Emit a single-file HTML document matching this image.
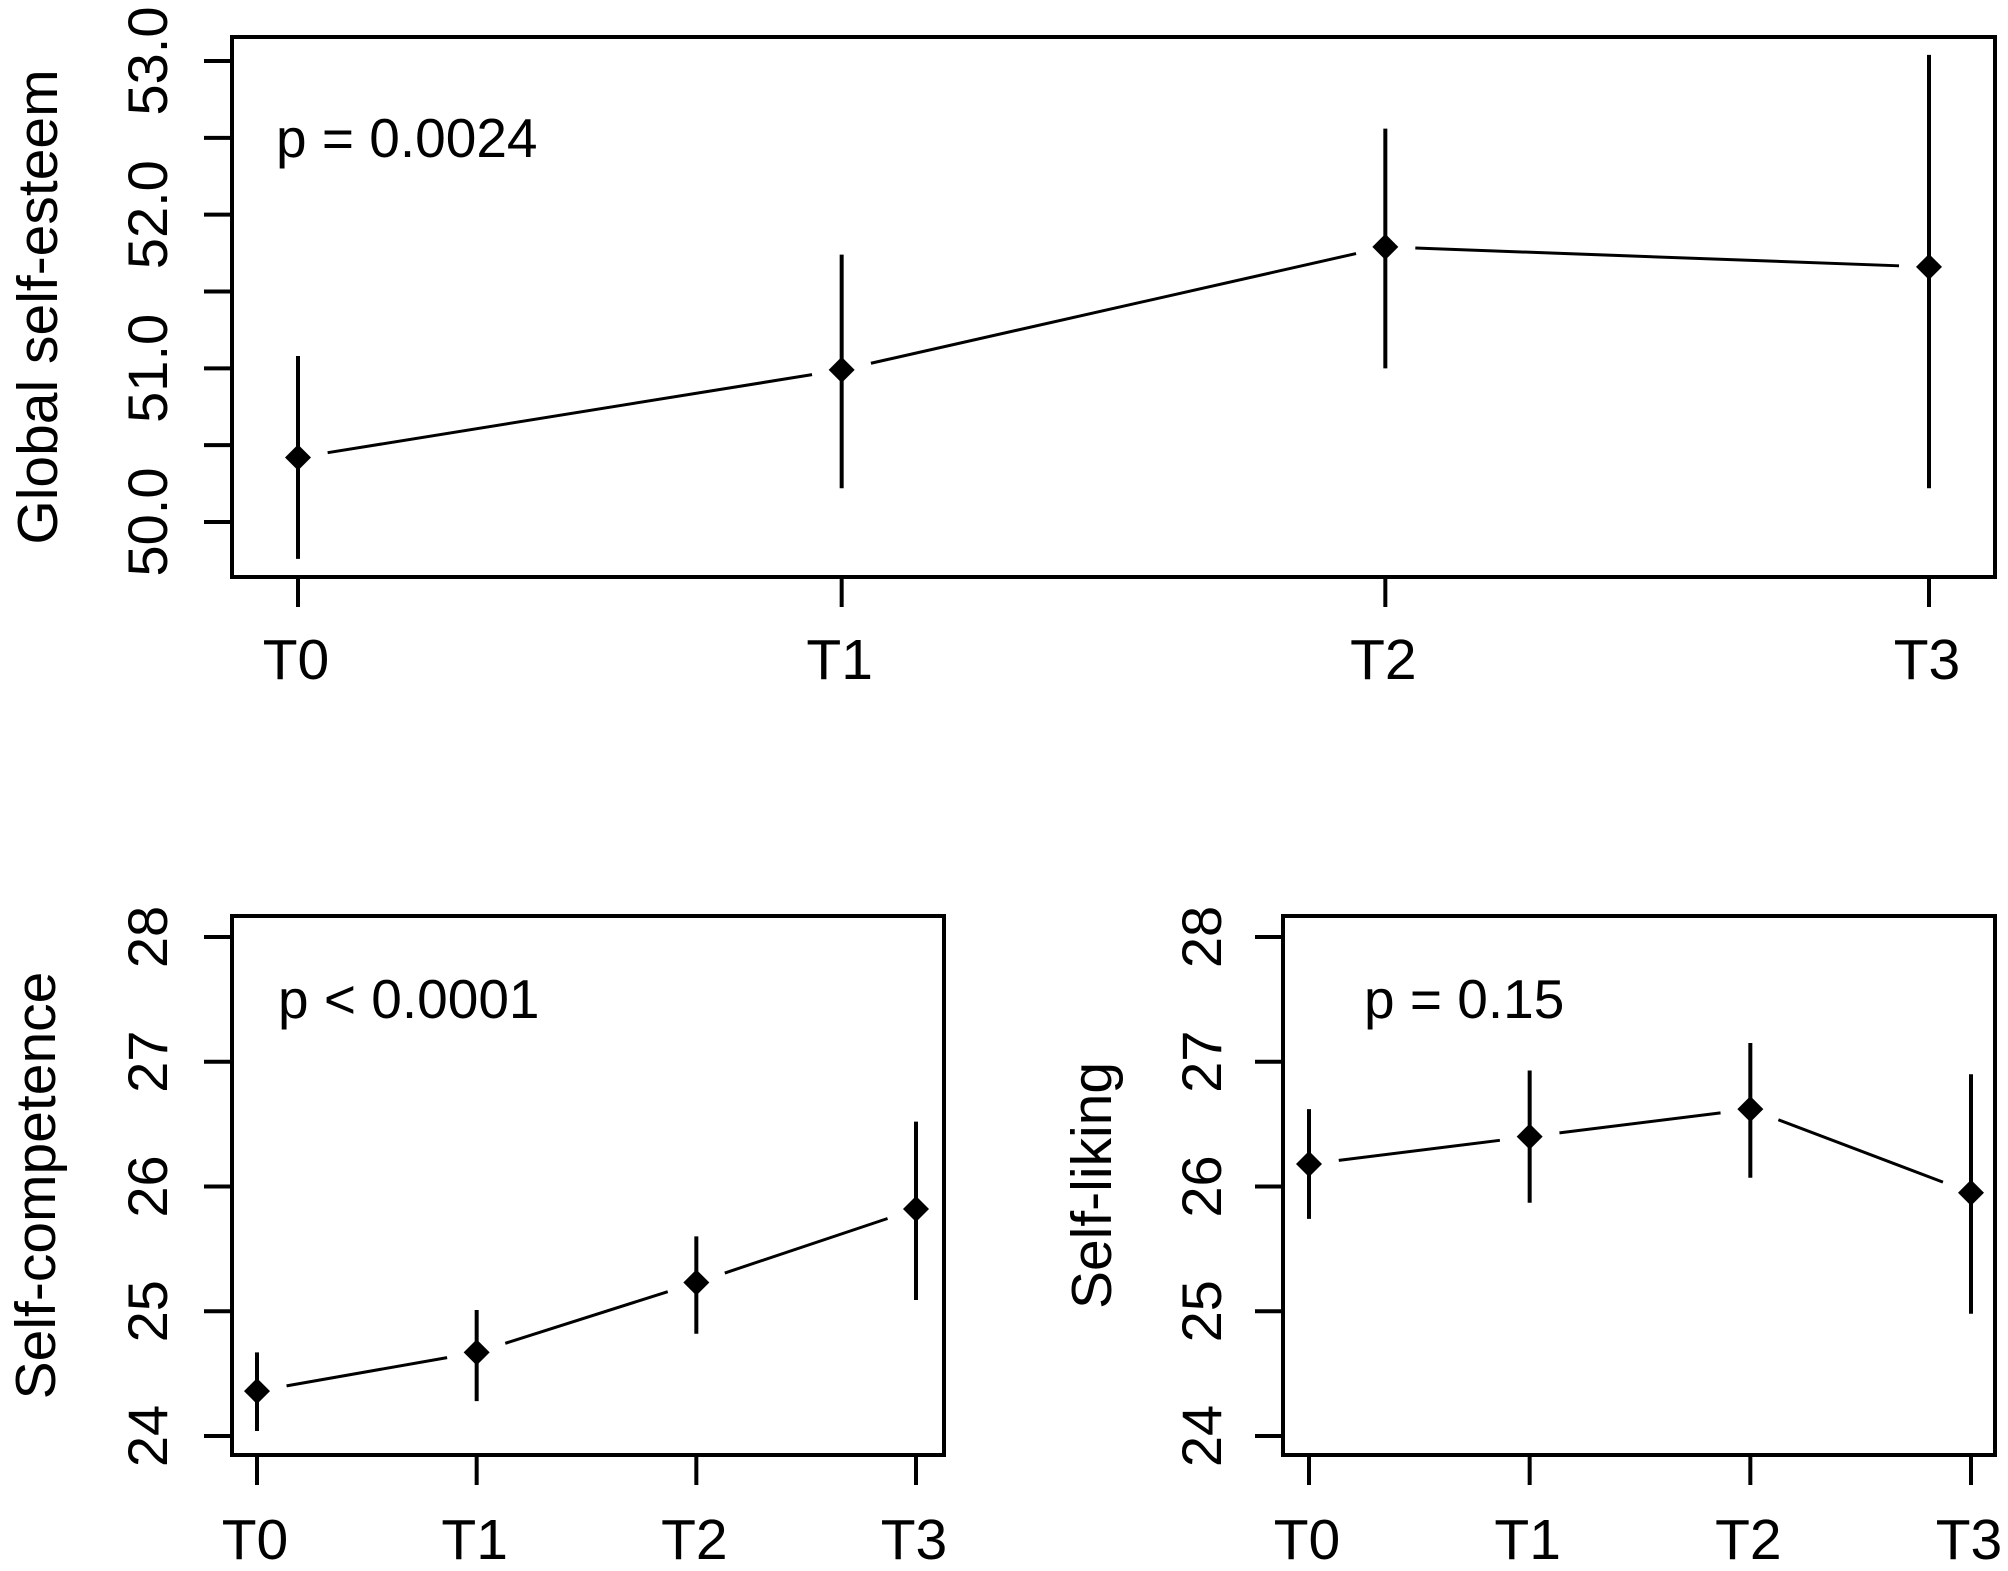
<!DOCTYPE html>
<html><head><meta charset="utf-8">
<style>
html,body{margin:0;padding:0;background:#fff;}
svg{display:block;}
text{font-family:"Liberation Sans",Arial,sans-serif;fill:#000;}
</style></head>
<body>
<svg id="fig" width="2008" height="1571" viewBox="0 0 2008 1571" xmlns="http://www.w3.org/2000/svg"></svg>
<script>
const categories = ["T0","T1","T2","T3"];
const globalMean = [50.42, 50.99, 51.79, 51.66];
const globalLow  = [49.76, 50.22, 51.00, 50.22];
const globalHigh = [51.08, 51.74, 52.56, 53.04];
const globalTicks = ["50.0","50.5","51.0","51.5","52.0","52.5","53.0"];
const globalTickLabels = ["50.0","","51.0","","52.0","","53.0"];
const compMean = [24.36, 24.67, 25.23, 25.82];
const compLow  = [24.04, 24.28, 24.82, 25.09];
const compHigh = [24.67, 25.01, 25.60, 26.52];
const likeMean = [26.18, 26.40, 26.62, 25.95];
const likeLow  = [25.74, 25.87, 26.07, 24.98];
const likeHigh = [26.62, 26.93, 27.15, 26.90];
const smallTicks = ["24","25","26","27","28"];

const NS = "http://www.w3.org/2000/svg";
const svg = document.getElementById('fig');
function mk(tag, attrs, parent){
  const e = document.createElementNS(NS, tag);
  for (const k in attrs) e.setAttribute(k, attrs[k]);
  (parent||svg).appendChild(e);
  return e;
}

function panel(cfg){
  const g = mk('g', {});
  
  
  const xs = i => cfg.x0 + i*(cfg.x3-cfg.x0)/(categories.length-1);
  const ys = v => cfg.yA + (v-cfg.vA)*(cfg.yB-cfg.yA)/(cfg.vB-cfg.vA);
  const box = mk('rect', {x:cfg.L, y:cfg.T, width:cfg.R-cfg.L, height:cfg.B-cfg.T, fill:'none', stroke:'#000', 'stroke-width':4}, g);
  
  
  cfg.ticks.forEach((t,i)=>{
    const v = parseFloat(t), y = ys(v);
    const tk = mk('line', {x1:cfg.L-28, x2:cfg.L, y1:y, y2:y, stroke:'#000','stroke-width':4}, g);
    
    
    const lab = cfg.tickLabels[i];
    if (lab){
      const tx = mk('text', {x:cfg.tickX, y:y, 'font-size':56, 'text-anchor':'middle', transform:`rotate(-90 ${cfg.tickX} ${y})`}, g);
      tx.textContent = lab;
      
      
    }
  });
  categories.forEach((c,i)=>{
    const x = xs(i);
    const tk = mk('line', {x1:x, x2:x, y1:cfg.B, y2:cfg.B+30, stroke:'#000','stroke-width':4}, g);
    
    
    const tx = mk('text', {x:x-2, y:cfg.xLabY, 'font-size':57, 'text-anchor':'middle'}, g);
    tx.textContent = c;
    
    
  });
  const cy = (cfg.T+cfg.B)/2;
  const tt = mk('text', {x:cfg.titleX, y:cy, 'font-size':57, 'text-anchor':'middle', transform:`rotate(-90 ${cfg.titleX} ${cy})`}, g);
  tt.textContent = cfg.title;
  
  
  const pt = mk('text', {x:cfg.pX, y:cfg.pY, 'font-size':55}, g);
  pt.textContent = cfg.p;
  
  
  const gap = 30;
  for (let i=0;i<categories.length-1;i++){
    const xa=xs(i), ya=ys(cfg.mean[i]), xb=xs(i+1), yb=ys(cfg.mean[i+1]);
    const d=Math.hypot(xb-xa,yb-ya), ux=(xb-xa)/d, uy=(yb-ya)/d;
    const ln = mk('line', {x1:xa+ux*gap, y1:ya+uy*gap, x2:xb-ux*gap, y2:yb-uy*gap, stroke:'#000','stroke-width':3}, g);
    
    
  }
  categories.forEach((c,i)=>{
    const x = xs(i);
    const eb = mk('line', {x1:x, x2:x, y1:ys(cfg.low[i]), y2:ys(cfg.high[i]), stroke:'#000','stroke-width':4}, g);
    
    
    const y = ys(cfg.mean[i]), s = 13;
    const pt2 = mk('polygon', {points:`${x},${y-s} ${x+s},${y} ${x},${y+s} ${x-s},${y}`, fill:'#000'}, g);
    
    
  });
}

panel({name:'global-self-esteem-panel', L:232, R:1995, T:37, B:577, x0:298, x3:1929,
  yA:522, vA:50, yB:61, vB:53, ticks:globalTicks, tickLabels:globalTickLabels,
  tickX:167, titleX:57, xLabY:679, title:'Global self-esteem', p:'p = 0.0024', pX:276, pY:157,
  mean:globalMean, low:globalLow, high:globalHigh});
panel({name:'self-competence-panel', L:232, R:944, T:916, B:1455, x0:257, x3:916,
  yA:1436, vA:24, yB:937, vB:28, ticks:smallTicks, tickLabels:smallTicks,
  tickX:167, titleX:55, xLabY:1559, title:'Self-competence', p:'p < 0.0001', pX:278, pY:1018,
  mean:compMean, low:compLow, high:compHigh});
panel({name:'self-liking-panel', L:1283, R:1995, T:916, B:1455, x0:1309, x3:1971,
  yA:1436, vA:24, yB:937, vB:28, ticks:smallTicks, tickLabels:smallTicks,
  tickX:1221, titleX:1111, xLabY:1559, title:'Self-liking', p:'p = 0.15', pX:1364, pY:1018,
  mean:likeMean, low:likeLow, high:likeHigh});
</script>
</body></html>
